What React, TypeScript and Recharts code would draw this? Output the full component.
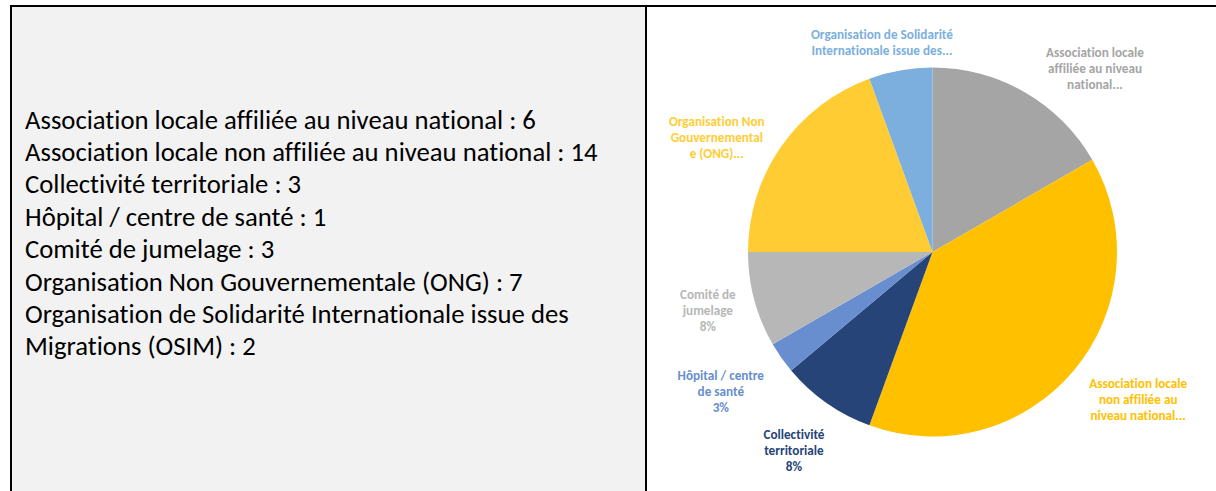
import { PieChart, Pie, Cell } from "recharts";

// categories and counts
const categories = [
  "Association locale affiliée au niveau national",
  "Association locale non affiliée au niveau national",
  "Collectivité territoriale",
  "Hôpital / centre de santé",
  "Comité de jumelage",
  "Organisation Non Gouvernementale (ONG)",
  "Organisation de Solidarité Internationale issue des Migrations (OSIM)",
];
const counts = [6, 14, 3, 1, 3, 7, 2];

// data label text as Excel truncated it
const labelLines = [
  ["Association locale", "affiliée au niveau", "national..."],
  ["Association locale", "non affiliée au", "niveau national..."],
  ["Collectivité", "territoriale"],
  ["Hôpital / centre", "de santé"],
  ["Comité de", "jumelage"],
  ["Organisation Non", "Gouvernemental", "e (ONG)..."],
  ["Organisation de Solidarité", "Internationale issue des..."],
];
const showPercent = [false, false, true, true, true, false, false];

const colors = ["#a5a5a5", "#ffc000", "#264478", "#698ed0", "#b7b7b7", "#ffcd33", "#7cafdd"];
const labelNudge = [
  [40, 28],
  [18, -10],
  [2, -3],
  [-11, -2],
  [12, -5],
  [-15, 26],
  [-8, 31],
];

const data = categories.map((name, i) => ({ name, value: counts[i] }));

const RAD = Math.PI / 180;
const FONT = "Carlito, Lato, 'Open Sans', sans-serif";

function renderLabel(props: any) {
  const { cx, cy, midAngle, outerRadius, percent, index } = props;
  const d = outerRadius + 60.5;
  const x = cx + d * Math.cos(-midAngle * RAD) + labelNudge[index][0];
  const y = cy + d * Math.sin(-midAngle * RAD) + labelNudge[index][1];
  const lines = [...labelLines[index]];
  if (showPercent[index]) lines.push(`${Math.round(percent * 100)}%`);
  const top = y - ((lines.length - 1) * 16) / 2;
  return (
    <text
      key={`lbl-${index}`}
      x={x}
      y={top}
      textAnchor="middle"
      dominantBaseline="central"
      fill={colors[index]}
      fontFamily={FONT}
      fontSize={13.2}
      fontWeight="bold"
      style={{ fontVariantLigatures: "none" }}
    >
      {lines.map((l, i) => (
        <tspan key={i} x={x} y={top + i * 16}>
          {l}
        </tspan>
      ))}
    </text>
  );
}

export default function App() {
  return (
    <div
      style={{
        position: "absolute",
        left: 0,
        top: 0,
        width: 1216,
        height: 491,
        background: "#ffffff",
        overflow: "hidden",
      }}
    >
      <style>{`.recharts-pie-sectors{filter:drop-shadow(1px 1px 4px rgba(0,0,0,0.28))}`}</style>
      {/* grey table cell */}
      <div style={{ position: "absolute", left: 10, top: 5, width: 636, height: 500, background: "#f2f2f2" }} />
      {/* borders */}
      <div style={{ position: "absolute", left: 10, top: 5, width: 1206, height: 2, background: "#000" }} />
      <div style={{ position: "absolute", left: 10, top: 5, width: 2, height: 500, background: "#000" }} />
      <div style={{ position: "absolute", left: 645, top: 5, width: 2, height: 500, background: "#000" }} />

      <div
        style={{
          position: "absolute",
          left: 25,
          top: 103.6,
          width: 610,
          fontFamily: FONT,
          fontSize: 26.7,
          lineHeight: "32.4px",
          color: "#000",
          fontVariantLigatures: "none",
        }}
      >
        {categories.map((c, i) => (
          <div key={c}>{`${c} : ${counts[i]}`}</div>
        ))}
      </div>

      <div style={{ position: "absolute", left: 648, top: 7 }}>
        <PieChart width={568} height={484} margin={{ top: 0, right: 0, bottom: 0, left: 0 }}>
          <Pie
            data={data}
            dataKey="value"
            nameKey="name"
            cx={284.5}
            cy={245}
            outerRadius={184.5}
            startAngle={90}
            endAngle={-270}
            stroke="none"
            label={renderLabel}
            labelLine={false}
            isAnimationActive={false}
          >
            {data.map((d, i) => (
              <Cell key={d.name} fill={colors[i]} />
            ))}
          </Pie>
        </PieChart>
      </div>
    </div>
  );
}
